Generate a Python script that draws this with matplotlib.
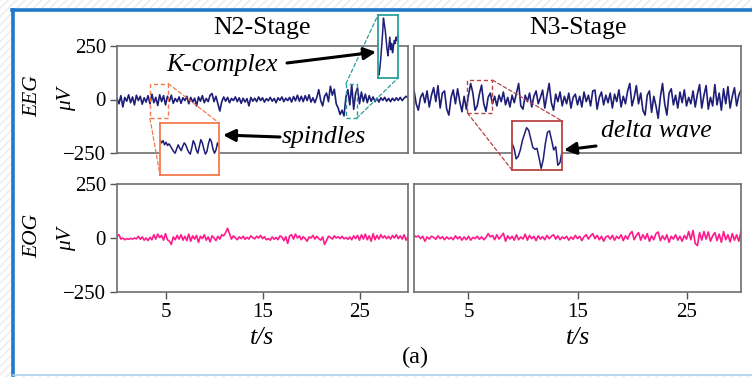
import numpy as np
import matplotlib.pyplot as plt
from matplotlib.patches import Rectangle, ConnectionPatch, FancyArrowPatch
from matplotlib.lines import Line2D

plt.rcParams['font.family'] = ['Liberation Serif', 'DejaVu Serif']

W, H = 752, 377

# time axis in seconds (0.2 s per sample)
t = np.arange(151) * 0.2

eeg_n2 = [5, -20, 18, -35, 10, -8, 22, -15, 12, -25, 20, -5, 15, -22, 8, -12,
          18, -20, 25, -15, 10, -28, 22, -10, 18, -25, 15, -8, 20, -18, 5,
          -10, 12, -18, 8, -5, 15, -20, 10, -12, 6, -30, 12, -8, 18, -15, 5, -10, 20, 28, -10,
          15, -20, -54, -10, 12, -8, 10, -15, 5, -5, 12, -10, 8, -18, 6, -12, 4, -30, 10, -8,
          6, -10, 12, -5, 8, -12, 4, -6, 10, -8, 5, -15, 8, -4, 12, -10, 6, -5, 10, -12,
          14, -6, 20, -8, 15, -10, 18, -5, 22, -12,
          8, -15, 10, 46, -5, -30, 15, 30, -10, 62, 20, 48, -20, -40, -70, -50, -77, 10, 46, -25,
          70, -46, 30, 54, -20, 35, -10, 25, -15, 18,
          -8, 12, -10, 6, -12, 8, -4, 10, -8, 5, -10, 6, -6, 8, -4, 10, -5, 6, 15, 8]

eeg_n3 = [44, -20, -50, 10, 30, -15, 40, -35, 20, 55,
          -10, 65, -40, 30, 40, -45, -73, 10, 45, -20,
          50, -10, -57, 15, -45, 20, 75, 30, -50, -30,
          25, 67, -20, -55, 10, 30, -20, 15, -30, 20,
          -10, 35, -25, 10, -35, 20, -15, 30, 75, -30,
          -45, 20, -10, 30, -35, 15, 40, -20, 10, 44,
          -40, 20, 75, -15, -50, 25, -10, 35, -30, 15,
          -20, 30, -40, 10, 25, -25, 15, -35, 35, -10,
          20, -30, 40, 44, -45, 10, 35, -25, 20, -15,
          30, -40, 25, -10, 45, -35, 15, -20, 40, 75,
          -30, 10, 65, -20, 30, -50, -73, 20, 40, -60,
          15, -30, -88, 10, 75, -20, -73, 30, 50, -25,
          20, -40, 35, -15, 45, -30, 10, -20, 40, -35,
          25, 70, -40, 20, 65, -45, 10, -30, 70, -25,
          30, -50, 50, -20, 60, -40, 15, 55, -30, 20, 44]

eog_n2 = [10, 15, -5, 0, -8, -3, -6, -2, -5, 0,
          -4, 8, -6, 5, -10, 0, -12, 3, -8, 15,
          -5, 18, 2, 12, -10, 20, -8, -15, -30, 5,
          -8, 12, -5, 15, -10, 8, -12, 18, -15, 10,
          -5, 12, -20, 8, -3, 15, -10, 5, -18, 10,
          0, -12, 8, -5, 15, 10, 25, 45, 20, -5,
          10, 0, -8, 5, -3, 8, -6, 3, -5, 10,
          2, -4, 8, 0, 12, -3, 6, -8, -3, -10,
          5, -6, 3, -8, 10, 5, -12, 6, -25, 10,
          15, -5, 18, 0, 10, -8, 6, -3, -15, 5,
          0, 12, -5, 8, -3, -10, 5, -30, -12, 8,
          3, -5, 10, 0, 6, -3, 8, -4, 2, -6,
          5, -8, 10, -3, 12, -10, 15, -5, 18, -8,
          10, -15, 20, -8, 12, -5, 15, 0, 10, -3,
          8, -5, 12, 0, 15, -3, 10, -5, 15, -10, 5]

eog_n3 = [12, 5, 10, -3, 8, -15, 5, -5, 8, 3,
          -6, 10, -3, 6, -8, 5, -5, 3, -8, 10,
          -4, 6, -10, 5, -8, 8, -10, 3, -3, 8,
          -6, 5, -8, 2, 20, 5, 12, -8, 15, -5,
          8, 22, -15, 10, -5, 8, -10, 15, -8, 5,
          -5, 18, -10, 12, -3, 8, -12, 10, -5, 6,
          -8, 12, -3, 8, 15, -5, 10, -8, 5, -3,
          8, -10, 5, -6, 12, -3, 8, -12, 6, 15,
          -5, 10, 20, -3, 12, -8, 8, -15, 5, 10,
          -5, 12, -10, 8, -3, 15, -12, 10, -5, 18,
          30, -8, 12, 25, -10, 15, -5, 20, -15, 10,
          -8, 20, 28, -12, 10, -8, 15, -20, 8, -5,
          15, -10, 8, -15, 12, -5, 30, -8, 35, -25,
          -35, 25, -10, 30, -5, 28, -15, 10, 25, -12,
          18, -20, 30, -8, 15, -18, 20, -10, 15, -15, 30]

# zoomed segments shown in the insets
spindle_win = (3.4, 5.3, -88, 74)
spindle = [22, 12, 19, 6, 14, 4, 9, 1, -7, -15, -20, -7, 6, -4, -12, 1, 12, 6, -7, -17,
           -23, -4, 19, 9, -10, -20, 1, 22, 12, -7, -23, -15, 9, 25, 16, -7, -20, -10, 12, 1]
kcomplex_win = (23.6, 24.7, -88, 74)
kcomplex = [-72, -80, -64, -39, -7, 25, 66, 50, 34, 9, -15, -31, -7, 17, -15, 1, -23, -7,
            9, 1, 17, 9, 25]
delta_win = (4.9, 7.2, -63, 91)
delta = [21, 5, -28, -20, 0, 30, 50, 70, 62, 35, 8, 2, 5, -25, -58, -30, 20, 55, 60, 31,
         0, 10, -48, -40, -6]

EEG_C = '#1e1e78'
EOG_C = '#ff1a8c'
SPINE_C = '#6e6e6e'


def px_rect(left, top, right, bottom):
    return [left / W, 1 - bottom / H, (right - left) / W, (bottom - top) / H]


def px(x, y):
    return (x / W, 1 - y / H)


fig = plt.figure(figsize=(W / 100, H / 100), dpi=100)
fig.patch.set_facecolor('white')

# page background + blue frame
fig.add_artist(Rectangle((0, 0), 1, 1, transform=fig.transFigure, facecolor='white',
                         edgecolor='#ececec', hatch='////', lw=0, zorder=-10))
fig.add_artist(Rectangle(px(13, 375), 1, (375 - 10) / H, transform=fig.transFigure,
                         facecolor='white', edgecolor='none', zorder=-9))
fig.add_artist(Line2D([13 / W, 13 / W], [1 - 10 / H, 1 - 375 / H], transform=fig.transFigure,
                      color='#1f78c8', lw=2.6))
fig.add_artist(Line2D([12 / W, 1], [1 - 10 / H, 1 - 10 / H], transform=fig.transFigure,
                      color='#1f78c8', lw=2.6))
fig.add_artist(Line2D([13 / W, 1], [1 - 375 / H, 1 - 375 / H], transform=fig.transFigure,
                      color='#a9d0f0', lw=1.2))

ax_a = fig.add_axes(px_rect(117, 46, 408, 153))
ax_b = fig.add_axes(px_rect(414, 46, 741, 153))
ax_c = fig.add_axes(px_rect(117, 184, 408, 292))
ax_d = fig.add_axes(px_rect(414, 184, 741, 292))

ax_a.plot(t, eeg_n2, color=EEG_C, lw=1.2)
ax_b.plot(t, eeg_n3, color=EEG_C, lw=1.2)
ax_c.plot(t, eog_n2, color=EOG_C, lw=1.2)
ax_d.plot(t, eog_n3, color=EOG_C, lw=1.2)

for ax in (ax_a, ax_b, ax_c, ax_d):
    ax.set_xlim(0, 30)
    ax.set_ylim(-250, 250)
    for s in ax.spines.values():
        s.set_color(SPINE_C)
        s.set_linewidth(1.2)
    ax.tick_params(direction='out', length=5, width=1, color='#555555', labelsize=15, pad=3)
    ax.set_xticks([5, 15, 25])
    ax.set_yticks([-250, 0, 250])
    ax.set_yticklabels(['\u2212250', '0', '250'])

for ax in (ax_a, ax_b):
    ax.tick_params(bottom=False, labelbottom=False)
for ax in (ax_b, ax_d):
    ax.tick_params(left=False, labelleft=False)

# titles and labels
fig.text(*px(262, 28), 'N2-Stage', ha='center', va='center', fontsize=18.5)
fig.text(*px(578, 28), 'N3-Stage', ha='center', va='center', fontsize=18.5)
for yc, name in ((96, 'EEG'), (236, 'EOG')):
    fig.text(*px(33, yc), name, rotation=90, ha='center', va='center', fontsize=15.5,
             style='italic')
    fig.text(*px(67, yc + 3), '\u03bcV', rotation=90, ha='center', va='center', fontsize=15.5,
             style='italic')
fig.text(*px(262, 338), 't/s', ha='center', va='center', fontsize=18.5, style='italic')
fig.text(*px(578, 338), 't/s', ha='center', va='center', fontsize=18.5, style='italic')
fig.text(*px(415, 357), '(a)', ha='center', va='center', fontsize=17.5)


def add_zoom(main, seg, win, rect, color, corners):
    x0, x1, y0, y1 = win
    main.add_patch(Rectangle((x0, y0), x1 - x0, y1 - y0, fill=False, edgecolor=color,
                             ls=(0, (3, 2)), lw=1.0, zorder=5))
    ins = fig.add_axes(px_rect(*rect))
    ins.set_facecolor('white')
    ins.plot(np.linspace(x0, x1, len(seg)), seg, color=EEG_C, lw=1.1)
    ins.set_xlim(x0, x1)
    ins.set_ylim(y0, y1)
    ins.set_xticks([])
    ins.set_yticks([])
    for s in ins.spines.values():
        s.set_color(color)
        s.set_linewidth(1.3)
    for (mx, my), (fx, fy) in corners:
        con = ConnectionPatch(xyA=(mx, my), coordsA=main.transData, xyB=(fx, fy),
                              coordsB=ins.transAxes, color=color, ls=(0, (3, 2)), lw=0.9)
        fig.add_artist(con)
    return ins


x0, x1, y0, y1 = spindle_win
add_zoom(ax_a, spindle, spindle_win, (160, 123, 219, 175), '#f47a4c',
         [((x1, y1), (1, 1)), ((x0, y0), (0, 0))])
x0, x1, y0, y1 = kcomplex_win
add_zoom(ax_a, kcomplex, kcomplex_win, (378, 15, 398, 78), '#2a9f98',
         [((x0, y1), (0, 1)), ((x1, y0), (1, 0))])
x0, x1, y0, y1 = delta_win
add_zoom(ax_b, delta, delta_win, (512, 121, 562, 170), '#b84444',
         [((x1, y1), (1, 1)), ((x0, y0), (0, 0))])

# annotations
fig.text(*px(222, 65), 'K-complex', ha='center', va='center', fontsize=18.5, style='italic')
fig.text(*px(324, 137), 'spindles', ha='center', va='center', fontsize=18.5, style='italic')
fig.text(*px(656, 131), 'delta wave', ha='center', va='center', fontsize=18.5, style='italic')
for a, b in (((287, 63), (376, 52)), ((280, 137), (223, 135)), ((596, 146), (564, 150))):
    fig.add_artist(FancyArrowPatch(px(*a), px(*b), transform=fig.transFigure,
                                   arrowstyle='-|>', mutation_scale=18, lw=2.2,
                                   color='black', shrinkA=0, shrinkB=0))

fig.savefig('out.png', dpi=100)
